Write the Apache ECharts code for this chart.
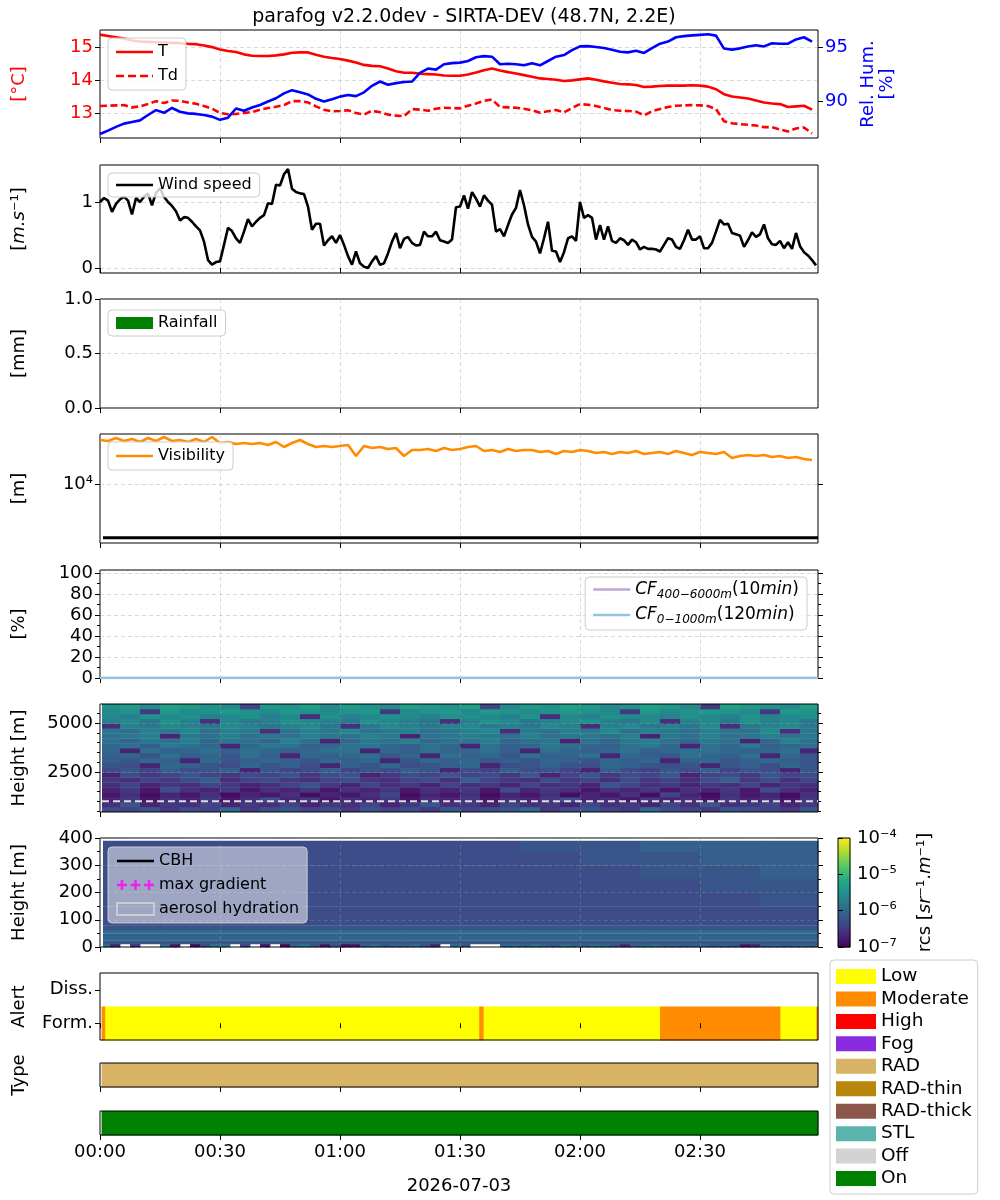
<!DOCTYPE html>
<html>
<head>
<meta charset="utf-8">
<script src="https://cdn.jsdelivr.net/npm/echarts@6/dist/echarts.min.js"></script>
<style>
  html, body { margin: 0; padding: 0; background: #fff; }
  #main { width: 1000px; height: 1200px; }
</style>
</head>
<body>
<div id="main"></div>
<script>
// ---- data (time in minutes after 00:00, 2026-07-03) ----
var meteoStep = 2;   // T, Td, RH, visibility sampled every 2 min
var temp = [15.38,15.34,15.30,15.26,15.20,15.17,15.16,15.15,15.14,15.13,
  15.12,15.10,15.09,15.05,15.00,14.93,14.88,14.85,14.78,14.74,
  14.73,14.73,14.75,14.78,14.83,14.84,14.84,14.77,14.71,14.67,
  14.64,14.59,14.53,14.46,14.43,14.42,14.35,14.27,14.22,14.22,
  14.19,14.18,14.17,14.14,14.13,14.13,14.17,14.23,14.30,14.35,
  14.29,14.24,14.20,14.15,14.10,14.05,14.03,14.01,13.97,13.99,
  14.02,14.05,14.01,13.96,13.92,13.88,13.87,13.85,13.79,13.80,
  13.82,13.83,13.83,13.83,13.84,13.83,13.80,13.72,13.57,13.50,
  13.47,13.44,13.38,13.32,13.29,13.27,13.18,13.20,13.22,13.10];
var dewPoint = [13.21,13.22,13.23,13.24,13.17,13.20,13.27,13.36,13.30,13.38,
  13.37,13.32,13.28,13.21,13.13,13.00,12.96,12.97,13.00,13.03,
  13.10,13.15,13.19,13.24,13.36,13.36,13.32,13.20,13.10,13.05,
  13.06,13.08,13.00,12.95,13.07,13.02,12.95,12.92,12.90,13.12,
  13.10,13.07,13.13,13.16,13.15,13.14,13.22,13.29,13.37,13.41,
  13.18,13.17,13.16,13.13,13.08,13.01,13.05,13.09,13.02,13.15,
  13.27,13.25,13.21,13.15,13.09,13.07,13.06,13.04,12.93,13.05,
  13.12,13.18,13.22,13.23,13.24,13.23,13.21,13.12,12.75,12.69,
  12.66,12.64,12.62,12.57,12.57,12.50,12.44,12.53,12.56,12.38];
var relHum = [86.94,87.25,87.60,87.90,88.05,88.20,88.70,89.15,88.90,89.35,
  89.00,88.85,88.80,88.70,88.55,88.25,88.45,89.30,89.10,89.40,
  89.63,89.95,90.25,90.70,91.00,90.80,90.60,90.20,89.95,90.15,
  90.40,90.55,90.45,90.80,91.40,91.80,91.50,91.65,91.75,91.80,
  92.60,93.00,92.90,93.40,93.50,93.55,93.70,94.05,94.15,94.10,
  93.40,93.45,93.40,93.30,93.50,93.30,93.70,94.10,94.25,94.70,
  95.05,95.08,95.00,94.90,94.75,94.55,94.50,94.65,94.45,94.90,
  95.30,95.50,95.90,96.00,96.07,96.12,96.17,96.05,94.85,94.75,
  94.87,95.05,95.15,95.05,95.35,95.30,95.30,95.70,95.90,95.50];
var visibility = [26740,26150,27970,26150,27350,25570,27970,26150,28600,26150,
  26740,25570,27350,25570,28600,25000,25570,24450,25000,24450,
  25000,23910,25570,22870,25000,26740,24450,22870,23380,22870,
  23380,23910,18700,23380,22360,22870,21870,22360,18700,21390,
  21390,21870,20910,22360,21390,21870,22870,23380,20910,21390,
  20450,21870,20910,21390,21390,20450,20910,19560,20910,20450,
  21390,20910,20000,20450,19560,20450,20000,20910,19560,20000,
  20450,19560,20910,20000,19120,20450,20000,19560,20450,17880,
  18700,19120,18700,19120,18290,18700,17880,18290,17490,17100];
var visRef = 3000;

// wind speed every minute
var wind = [1.00,1.06,1.02,0.85,0.97,1.04,1.08,1.02,0.81,1.06,
  1.00,1.08,1.13,0.95,1.14,1.21,1.08,1.00,0.94,0.86,
  0.72,0.77,0.76,0.70,0.63,0.57,0.40,0.12,0.05,0.09,
  0.10,0.35,0.61,0.56,0.45,0.38,0.55,0.74,0.63,0.70,
  0.76,0.80,0.98,0.97,1.26,1.25,1.42,1.50,1.20,1.15,
  1.13,1.12,0.93,0.58,0.67,0.67,0.34,0.42,0.48,0.38,
  0.50,0.35,0.18,0.05,0.25,0.07,0.02,0.00,0.10,0.18,
  0.05,0.07,0.22,0.40,0.53,0.30,0.44,0.47,0.38,0.34,
  0.35,0.55,0.48,0.48,0.55,0.42,0.40,0.38,0.43,0.92,
  0.93,1.10,0.90,1.15,1.05,0.93,1.10,1.02,0.96,0.55,
  0.59,0.48,0.65,0.81,0.91,1.18,0.95,0.66,0.47,0.40,
  0.22,0.45,0.70,0.26,0.25,0.09,0.24,0.45,0.48,0.41,
  1.00,0.76,0.80,0.76,0.43,0.65,0.43,0.63,0.41,0.38,
  0.45,0.42,0.35,0.43,0.39,0.28,0.32,0.29,0.29,0.28,
  0.25,0.35,0.45,0.43,0.32,0.29,0.42,0.58,0.43,0.43,
  0.48,0.30,0.30,0.38,0.55,0.73,0.66,0.67,0.53,0.51,
  0.49,0.32,0.42,0.54,0.47,0.51,0.66,0.45,0.36,0.35,
  0.41,0.30,0.39,0.29,0.53,0.33,0.24,0.19,0.12,0.04];

// rainfall and cloud fraction (10 min)
var slowTimes = [0,10,20,30,40,50,60,70,80,90,100,110,120,130,140,150,160,170,179.5];
var rain   = [0,0,0,0,0,0,0,0,0,0,0,0,0,0,0,0,0,0,0];
var cfHigh = [0,0,0,0,0,0,0,0,0,0,0,0,0,0,0,0,0,0,0];
var cfLow  = [0,0,0,0,0,0,0,0,0,0,0,0,0,0,0,0,0,0,0];

// backscatter (rcs), one char per cell: log10(rcs) = -7 + 0.1*index in LEVELS, '.' = missing
var LEVELS = '0123456789abcdefghijklmnopqrstu';
var hiGateBottom = [470,720,970,1220,1470,1720,1970,2220,2470,2720,2970,
  3220,3470,3720,3970,4220,4470,4720,4970,5220,5470,5720];
var hiGateTop = 5970;
var hiRows = [
  '768576a57867586758678a57865a76587658',
  '483546354635463584536453645364845635',
  '352435247352435243524357342534253425',
  '241324132413246132413241324163142314',
  '352743524352435243527354243524352743',
  '463546534685364536453645386453546354',
  '546579467546754674965475647564795746',
  '375686576857835768675836857683675867',
  '786978938679687983769786397687968738',
  '873a987a897398a789a378987a98783897a8',
  '98a93a89a98a9a38a9a898a98a9a39a89a98',
  '9a8b9a8b93a9ab8a3b9a8b9ab3a98ba9b3a8',
  'a3b9ab9ba9abb3a9baab93ba9ab9abba9ab3',
  'ab9cba3acb9abca9ba3b9acba9bca3bac9ab',
  'bacbdacbadb3acbdabcdabc3bacdbacb3adb',
  'bcd3cbdbcbdcbdc3bcdcbdbccbd3cbdbcdbc',
  'cbdcebdc4bdcebcdbcde4cbdcebdcbdcbe4c',
  '4dcedcedcdec4cedcdecdced4decdce4cdec',
  'decfd4ecdfedcfedc4dfecdefdce4decfdec',
  'edfefdefde4fdefedffedf4edfeedfedfdef',
  'ef5gefgfegfefg5efgegfefgfe5gefgfe5gf',
  'fgehgfe6gfhegfehgfh6egfhgefhge5hgfeh'];
var loGateEdges = [0,12,25,40,50,62,80,100,150,200,250,300,350,390];
var loRows = [
  'b3.5..b2.17cb.6.2.1ac828129b8a9b83.b8...ab9ca8ba9ba839ab9a89a898239a89a9',
  '888888888888',
  'aaaaaaaaaaaa',
  '999999999999',
  'bbbbbbbbbbbb',
  '888888888888',
  '777777777777',
  '777777777777',
  '777777777778',
  '777777777788',
  '777777777889',
  '777777778899',
  '777777788999'];
var cbhLimit = 1000;

// alert / type / status segments
var alertStart = [0.4, 1.2, 94.8, 95.8, 140, 170, 179.1];
var alertEnd   = [1.2, 94.8, 95.8, 140, 170, 179.1, 179.5];
var alertLevel = ['Moderate','Low','Moderate','Low','Moderate','Low','Moderate'];
var typeStart = [0.4], typeEnd = [179.5], typeName = ['RAD'];
var onStart = [0.4], onEnd = [179.5];

var legendNames = ['Low','Moderate','High','Fog','RAD','RAD-thin','RAD-thick','STL','Off','On'];
var legendColors = ['#ffff00','#ff8c00','#ff0000','#8a2be2','#d8b365','#b8860b','#8c564b','#5ab4ac','#d3d3d3','#008000'];

var timeTicks = [0, 30, 60, 90, 120, 150];
var VIRIDIS = ['#440154','#482475','#414487','#355f8d','#2a788e','#21918c','#22a884','#44bf70','#7ad151','#bddf26','#fde725'];

// ---- helpers ----
var FONT = 'DejaVu Sans';
var GRIDLINE = { color: 'rgba(150,150,150,0.45)', type: [4, 3], width: 0.8 };
function pad2(n) { return (n < 10 ? '0' : '') + n; }
function hhmm(v) { var h = Math.floor(v / 60 + 1e-9); return pad2(h) + ':' + pad2(Math.round(v - h * 60)); }
function pairs(times, vals) { return vals.map(function (v, i) { return [times[i], v]; }); }
var meteoTimes = temp.map(function (_, i) { return i * meteoStep; });
var windTimes = wind.map(function (_, i) { return i; });

function buildCells(rows, edges, top, tFirst) {
  var out = [];
  rows.forEach(function (row, r) {
    var w = 180 / row.length;
    var h0 = edges[r], h1 = (r + 1 < edges.length) ? edges[r + 1] : top;
    for (var c = 0; c < row.length; c++) {
      var ch = row.charAt(c);
      if (ch === '.') continue;
      var t0 = Math.max(tFirst, c * w), t1 = Math.min(179.5, (c + 1) * w);
      if (t1 <= t0) continue;
      out.push([t0, t1, h0, h1, -7 + 0.1 * LEVELS.indexOf(ch)]);
    }
  });
  return out;
}
function rectItem(api, fill) {
  var a = api.coord([api.value(0), api.value(3)]);
  var b = api.coord([api.value(1), api.value(2)]);
  return { type: 'rect', shape: { x: a[0], y: a[1], width: b[0] - a[0] + 0.4, height: b[1] - a[1] + 0.4 },
           style: { fill: fill } };
}
function renderCell(params, api) { return rectItem(api, api.visual('color')); }

var grids = [[30,108],[165,108],[299,109],[434,109],[570,108],[704,108],[838,109],[973,67],[1063,24],[1111,24]];
var grid = grids.map(function (g) {
  return { left: 100, width: 718, top: g[0], height: g[1], show: true, borderColor: '#000', borderWidth: 1, backgroundColor: 'transparent' };
});
grid.push({ left: 838, width: 12, top: 838, height: 109, show: true, borderColor: '#000', borderWidth: 1 });

var xAxis = grids.map(function (g, i) {
  var ax = {
    type: 'value', gridIndex: i, min: 0, max: 179.5, interval: 30,
    axisLine: { show: false },
    axisTick: { show: true, length: 5, customValues: timeTicks, lineStyle: { color: '#000' } },
    axisLabel: { show: i === 9, customValues: timeTicks, formatter: hhmm, fontSize: 18, color: '#000', fontFamily: FONT, margin: 8 },
    splitLine: { show: i < 7, lineStyle: GRIDLINE }
  };
  if (i === 9) {
    ax.name = '2026-07-03'; ax.nameLocation = 'middle'; ax.nameGap = 42;
    ax.nameTextStyle = { fontSize: 18, color: '#000', fontFamily: FONT };
  }
  return ax;
});
xAxis.push({ type: 'value', gridIndex: 10, min: 0, max: 1, show: false });

function yAx(o) {
  var base = {
    type: 'value', axisLine: { show: false },
    axisTick: { show: true, length: 5, lineStyle: { color: '#000' } },
    axisLabel: { fontSize: 18, color: '#000', fontFamily: FONT, margin: 7, formatter: function (v) { return String(v); } },
    splitLine: { show: true, lineStyle: GRIDLINE },
    nameLocation: 'middle', nameGap: 72, nameRotate: 90,
    nameTextStyle: { fontSize: 18, color: '#000', fontFamily: FONT }
  };
  for (var k in o) {
    if (o[k] && typeof o[k] === 'object' && !Array.isArray(o[k]) && base[k] && typeof base[k] === 'object') {
      for (var kk in o[k]) base[k][kk] = o[k][kk];
    } else base[k] = o[k];
  }
  return base;
}
function twin(o) {
  o.position = 'right';
  o.axisLabel = { show: false };
  o.splitLine = { show: false };
  return yAx(o);
}
var SUP = { '-': '⁻', '4': '⁴', '5': '⁵', '6': '⁶', '7': '⁷' };
function pow10(e) { return '10' + String(e).split('').map(function (c) { return SUP[c]; }).join(''); }

var yAxis = [
  yAx({ gridIndex: 0, min: 12.24, max: 15.52, minInterval: 1, maxInterval: 1,
        axisLabel: { color: '#ff0000', customValues: [13, 14, 15] }, axisTick: { customValues: [13, 14, 15] },
        name: '[°C]', nameTextStyle: { color: '#ff0000' } }),
  yAx({ gridIndex: 0, position: 'right', min: 86.57, max: 96.57, minInterval: 5, maxInterval: 5,
        axisLabel: { color: '#0000ff', customValues: [90, 95] }, axisTick: { customValues: [90, 95] },
        splitLine: { show: false }, name: 'Rel. Hum.\n[%]', nameGap: 38,
        nameTextStyle: { color: '#0000ff', lineHeight: 19 } }),
  yAx({ gridIndex: 1, min: -0.076, max: 1.56, minInterval: 1, maxInterval: 1,
        axisLabel: { customValues: [0, 1] }, axisTick: { customValues: [0, 1] },
        name: '[{i|m.s}⁻¹]', nameTextStyle: { rich: { i: { fontStyle: 'italic', fontSize: 18, fontFamily: FONT } } } }),
  yAx({ gridIndex: 2, min: 0, max: 1, interval: 0.5, axisLabel: { formatter: function (v) { return v.toFixed(1); } }, name: '[mm]' }),
  yAx({ gridIndex: 3, type: 'log', logBase: 10, min: 2674, max: 30580,
        axisLabel: { customValues: [10000], formatter: function () { return pow10(4); } },
        axisTick: { customValues: [10000] }, name: '[m]' }),
  twin({ gridIndex: 3, type: 'log', logBase: 10, min: 2674, max: 30580, axisTick: { customValues: [10000], length: 5, lineStyle: { color: '#000' } } }),
  yAx({ gridIndex: 4, min: 0, max: 103, minInterval: 20, maxInterval: 20,
        axisLabel: { customValues: [0, 20, 40, 60, 80, 100] }, axisTick: { customValues: [0, 20, 40, 60, 80, 100] },
        minorTick: { show: true, splitNumber: 2, length: 3, lineStyle: { color: '#000' } }, name: '[%]' }),
  twin({ gridIndex: 4, min: 0, max: 103, minInterval: 20, maxInterval: 20,
         axisTick: { customValues: [0, 20, 40, 60, 80, 100], length: 5, lineStyle: { color: '#000' } },
         minorTick: { show: true, splitNumber: 2, length: 3, lineStyle: { color: '#000' } } }),
  yAx({ gridIndex: 5, min: 450, max: 5970, minInterval: 2500, maxInterval: 2500,
        axisLabel: { customValues: [2500, 5000] }, axisTick: { customValues: [2500, 5000] },
        minorTick: { show: true, splitNumber: 5, length: 3, lineStyle: { color: '#000' } }, name: 'Height [m]' }),
  twin({ gridIndex: 5, min: 450, max: 5970, minInterval: 2500, maxInterval: 2500,
         axisTick: { customValues: [2500, 5000], length: 5, lineStyle: { color: '#000' } },
         minorTick: { show: true, splitNumber: 5, length: 3, lineStyle: { color: '#000' } } }),
  yAx({ gridIndex: 6, min: 0, max: 400, interval: 100,
        minorTick: { show: true, splitNumber: 2, length: 3, lineStyle: { color: '#000' } }, name: 'Height [m]' }),
  twin({ gridIndex: 6, min: 0, max: 400, interval: 100, axisTick: { show: true, length: 5, lineStyle: { color: '#000' } },
         minorTick: { show: true, splitNumber: 2, length: 3, lineStyle: { color: '#000' } } }),
  yAx({ gridIndex: 7, min: -0.5, max: 1.5, minInterval: 1, maxInterval: 1, splitLine: { show: false },
        axisLabel: { customValues: [0, 1], formatter: function (v) { return v === 0 ? 'Form.' : 'Diss.'; } },
        axisTick: { customValues: [0, 1] }, name: 'Alert' }),
  yAx({ gridIndex: 8, min: 0, max: 1, splitLine: { show: false }, axisLabel: { show: false }, axisTick: { show: false }, name: 'Type' }),
  yAx({ gridIndex: 9, min: 0, max: 1, splitLine: { show: false }, axisLabel: { show: false }, axisTick: { show: false } }),
  yAx({ gridIndex: 10, position: 'right', min: -7, max: -4, interval: 1, splitLine: { show: false },
        axisLabel: { formatter: function (v) { return pow10(v); } },
        name: 'rcs [{i|sr}⁻¹.{i|m}⁻¹]', nameGap: 66,
        nameTextStyle: { rich: { i: { fontStyle: 'italic', fontSize: 18, fontFamily: FONT } } } })
];

// ---- series ----
var series = [];
function line(name, xi, yi, data, color, extra) {
  var s = { name: name, type: 'line', xAxisIndex: xi, yAxisIndex: yi, data: data, symbol: 'none',
            lineStyle: { color: color, width: 2.6 }, itemStyle: { color: color } };
  for (var k in (extra || {})) s[k] = extra[k];
  series.push(s);
}
var CF_HI = 'CF400-6000m(10min)', CF_LO = 'CF0-1000m(120min)';
line('T', 0, 0, pairs(meteoTimes, temp), '#ff0000');
line('Td', 0, 0, pairs(meteoTimes, dewPoint), '#ff0000', { lineStyle: { color: '#ff0000', width: 2.6, type: [7, 3.5] } });
line('RH', 0, 1, pairs(meteoTimes, relHum), '#0000ff');
line('Wind speed', 1, 2, pairs(windTimes, wind), '#000000');
series.push({ name: 'Rainfall', type: 'bar', xAxisIndex: 2, yAxisIndex: 3, data: pairs(slowTimes, rain), barWidth: 3, itemStyle: { color: '#008000' } });
line('Visibility', 3, 4, pairs(meteoTimes, visibility), '#ff8c00');
line('visRef', 3, 4, [[0.75, visRef], [179.5, visRef]], '#000000', { lineStyle: { color: '#000', width: 3 } });
line(CF_HI, 4, 6, pairs(slowTimes, cfHigh), '#c2a5cf');
line(CF_LO, 4, 6, pairs(slowTimes, cfLow), '#92c5de');

var hmHi = series.length;
series.push({ name: 'rcsHi', type: 'custom', xAxisIndex: 5, yAxisIndex: 8, z: -1, renderItem: renderCell,
              encode: { x: [0, 1], y: [2, 3] }, data: buildCells(hiRows, hiGateBottom, hiGateTop, 0.5) });
line('cbhLimit', 5, 8, [[0.5, cbhLimit], [179.5, cbhLimit]], '#dddddd', { lineStyle: { color: '#dddddd', width: 2, type: [7, 4] } });
var hmLo = series.length;
series.push({ name: 'rcsLo', type: 'custom', xAxisIndex: 6, yAxisIndex: 10, z: -1, renderItem: renderCell,
              encode: { x: [0, 1], y: [2, 3] }, data: buildCells(loRows, loGateEdges, 390, 0.75) });
line('CBH', 6, 10, [], '#000000');
series.push({ name: 'max gradient', type: 'scatter', xAxisIndex: 6, yAxisIndex: 10, data: [], itemStyle: { color: '#ff00ff' } });
series.push({ name: 'aerosol hydration', type: 'custom', xAxisIndex: 6, yAxisIndex: 10, data: [], renderItem: renderCell, itemStyle: { color: '#cccccc' } });

// colorbar
series.push({ name: 'colorbar', type: 'custom', xAxisIndex: 10, yAxisIndex: 15, z: -1, data: [[0, 1, -7, -4]],
  renderItem: function (params, api) {
    return rectItem(api, { type: 'linear', x: 0, y: 1, x2: 0, y2: 0,
      colorStops: VIRIDIS.map(function (c, i) { return { offset: i / (VIRIDIS.length - 1), color: c }; }) });
  } });

// alert, type and status bars
function segSeries(name, xi, yi, starts, ends, keep, y0, y1) {
  var data = [];
  starts.forEach(function (s, i) { if (keep(i)) data.push([s, ends[i], y0, y1]); });
  series.push({ name: name, type: 'custom', xAxisIndex: xi, yAxisIndex: yi, z: -1, data: data,
                encode: { x: [0, 1], y: [2, 3] }, renderItem: function (p, api) { return rectItem(api, api.visual('color')); },
                itemStyle: { color: legendColors[legendNames.indexOf(name)] } });
}
segSeries('Low', 7, 12, alertStart, alertEnd, function (i) { return alertLevel[i] === 'Low'; }, -0.5, 0.5);
segSeries('Moderate', 7, 12, alertStart, alertEnd, function (i) { return alertLevel[i] === 'Moderate'; }, -0.5, 0.5);
segSeries('High', 7, 12, alertStart, alertEnd, function (i) { return alertLevel[i] === 'High'; }, -0.5, 0.5);
segSeries('Fog', 7, 12, alertStart, alertEnd, function (i) { return alertLevel[i] === 'Fog'; }, -0.5, 0.5);
['RAD', 'RAD-thin', 'RAD-thick', 'STL'].forEach(function (n) {
  segSeries(n, 8, 13, typeStart, typeEnd, function (i) { return typeName[i] === n; }, 0, 1);
});
segSeries('Off', 9, 14, [], [], function () { return true; }, 0, 1);
segSeries('On', 9, 14, onStart, onEnd, function () { return true; }, 0, 1);

// ---- legends ----
function leg(o) {
  var base = { orient: 'vertical', selectedMode: false, backgroundColor: 'rgba(255,255,255,0.8)',
               borderColor: '#cccccc', borderWidth: 1, borderRadius: 4, padding: [6, 8, 6, 8],
               itemWidth: 37, itemHeight: 12, itemGap: 8,
               textStyle: { fontSize: 16, color: '#000', fontFamily: FONT } };
  for (var k in o) base[k] = o[k];
  return base;
}
var SOLID = 'path://M0,0h37v2.6h-37z';
var DASHED = 'path://M0,0h8v2.6h-8z M12,0h8v2.6h-8z M24,0h8v2.6h-8z M36,0h1v2.6h-1z';
var PLUS3 = 'path://M0,4h8v2h-8z M3,1h2v8h-2z M11,4h8v2h-8z M14,1h2v8h-2z M22,4h8v2h-8z M25,1h2v8h-2z';
function solid(n) { return { name: n, icon: SOLID }; }
var cfRich = {
  i: { fontStyle: 'italic', fontSize: 17, fontFamily: FONT, lineHeight: 22, verticalAlign: 'middle' },
  s: { fontStyle: 'italic', fontSize: 12, fontFamily: FONT, lineHeight: 22, verticalAlign: 'bottom' },
  n: { fontSize: 17, fontFamily: FONT, lineHeight: 22, verticalAlign: 'middle' }
};
var legend = [
  leg({ data: [solid('T'), { name: 'Td', icon: DASHED }], left: 108, top: 38 }),
  leg({ data: [solid('Wind speed')], left: 108, top: 173, padding: [4, 8, 4, 8] }),
  leg({ data: [{ name: 'Rainfall', icon: 'rect' }], left: 108, top: 310, padding: [5, 8, 5, 8] }),
  leg({ data: [solid('Visibility')], left: 108, top: 442, padding: [6, 8, 6, 8] }),
  leg({ data: [solid(CF_HI), solid(CF_LO)], right: 193, top: 577, itemGap: 6, padding: [4, 8, 4, 8],
        formatter: function (n) {
          return n === CF_HI ? '{i|CF}{s|400−6000m}{n|(10}{i|min}{n|)}' : '{i|CF}{s|0−1000m}{n|(120}{i|min}{n|)}';
        },
        textStyle: { fontSize: 17, color: '#000', fontFamily: FONT, rich: cfRich } }),
  leg({ data: [solid('CBH'), { name: 'max gradient', icon: PLUS3 },
               { name: 'aerosol hydration', icon: 'rect', itemStyle: { color: 'rgba(0,0,0,0)', borderColor: '#cccccc', borderWidth: 2 } }],
        left: 108, top: 847, backgroundColor: 'rgba(255,255,255,0.5)', itemGap: 8 }),
  leg({ data: legendNames.map(function (n) { return { name: n, icon: 'rect' }; }), left: 830, top: 960,
        itemWidth: 40, itemHeight: 15, itemGap: 3.45, padding: [7, 6, 6, 6],
        textStyle: { fontSize: 18.5, color: '#000', fontFamily: FONT } })
];

var option = {
  animation: false,
  backgroundColor: '#fff',
  textStyle: { fontFamily: FONT },
  title: { text: 'parafog v2.2.0dev - SIRTA-DEV (48.7N, 2.2E)', left: 459, top: 3, textAlign: 'center',
           textStyle: { fontSize: 19, fontWeight: 'normal', color: '#000', fontFamily: FONT } },
  grid: grid,
  xAxis: xAxis,
  yAxis: yAxis,
  visualMap: [{ type: 'continuous', show: false, min: -7, max: -4, dimension: 4,
                seriesIndex: [hmHi, hmLo], inRange: { color: VIRIDIS } }],
  legend: legend,
  series: series
};

var chart = echarts.init(document.getElementById('main'));
chart.setOption(option);
</script>
</body>
</html>
